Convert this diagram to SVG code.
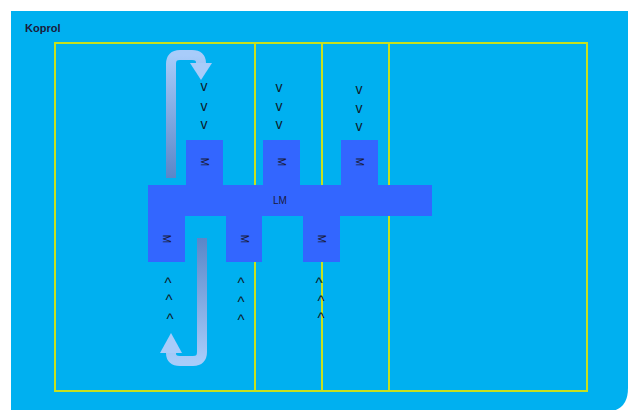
<svg xmlns="http://www.w3.org/2000/svg" width="631" height="410" viewBox="0 0 631 410">
<defs>
<style>
.bg{fill:#00B0F0}
.ln{fill:none;stroke:#C6E01E;stroke-width:2}
.box{fill:#3366FF}
.t{font-family:"Liberation Sans",Arial,sans-serif;fill:#1a1a3a}
.m{font-size:10px;text-anchor:middle;dominant-baseline:central}
.c{font-family:"Liberation Sans",Arial,sans-serif;text-anchor:middle;fill:#0d1a2a}
.v{font-size:14px}
.a{font-size:15px}
</style>
<linearGradient id="gUp" x1="0" y1="0" x2="0" y2="1">
<stop offset="0" stop-color="#A8CCFA"/>
<stop offset="1" stop-color="#5A86C8"/>
</linearGradient>
<linearGradient id="gDn" x1="0" y1="0" x2="0" y2="1">
<stop offset="0" stop-color="#5A86C8"/>
<stop offset="1" stop-color="#A8CCFA"/>
</linearGradient>
</defs>
<rect width="631" height="410" fill="#FFFFFF"/>
<path class="bg" d="M11,11 H628 V388 Q628,412 604,412 H11 Z"/>
<text class="t" x="25" y="32" font-size="11" font-weight="bold">Koprol</text>
<g id="frame">
<rect class="ln" x="55" y="43" width="532" height="348"/>
<line class="ln" x1="255" y1="43" x2="255" y2="391"/>
<line class="ln" x1="322" y1="43" x2="322" y2="391"/>
<line class="ln" x1="389" y1="43" x2="389" y2="391"/>
</g>
<g id="connectors">
<path d="M171,178 V64 Q171,55 180,55 H192 Q201,55 201,63" fill="none" stroke="url(#gUp)" stroke-width="10"/>
<polygon points="190,63 212,63 201,80" fill="#A8CCFA"/>
<path d="M202,238 V352 Q202,361 193,361 H180 Q171,361 171,353" fill="none" stroke="url(#gDn)" stroke-width="10"/>
<polygon points="160,353 182,353 171,333" fill="#A8CCFA"/>
</g>
<g id="LM">
<rect class="box" x="148" y="185" width="284" height="31"/>
<text class="t m" x="280" y="200" font-size="11">LM</text>
</g>
<g id="M-top-1"><rect class="box" x="186" y="140" width="37" height="45"/><text class="t m" transform="translate(204.5,162) rotate(90)">M</text></g>
<g id="M-top-2"><rect class="box" x="263" y="140" width="37" height="45"/><text class="t m" transform="translate(281.5,162) rotate(90)">M</text></g>
<g id="M-top-3"><rect class="box" x="341" y="140" width="37" height="45"/><text class="t m" transform="translate(359.5,162) rotate(90)">M</text></g>
<g id="M-bot-1"><rect class="box" x="148" y="216" width="37" height="46"/><text class="t m" transform="translate(166.5,239) rotate(90)">M</text></g>
<g id="M-bot-2"><rect class="box" x="226" y="216" width="36" height="46"/><text class="t m" transform="translate(244,239) rotate(90)">M</text></g>
<g id="M-bot-3"><rect class="box" x="303" y="216" width="37" height="46"/><text class="t m" transform="translate(321.5,239) rotate(90)">M</text></g>
<g id="chevrons">
<text class="c v" x="204" y="91">v</text><text class="c v" x="204" y="111">v</text><text class="c v" x="204" y="129">v</text>
<text class="c v" x="279" y="92">v</text><text class="c v" x="279" y="111">v</text><text class="c v" x="279" y="129">v</text>
<text class="c v" x="359" y="94">v</text><text class="c v" x="359" y="113">v</text><text class="c v" x="359" y="131">v</text>
<text class="c a" x="168" y="288">^</text><text class="c a" x="169" y="305">^</text><text class="c a" x="170" y="324">^</text>
<text class="c a" x="241" y="288">^</text><text class="c a" x="241" y="307">^</text><text class="c a" x="241" y="325">^</text>
<text class="c a" x="319" y="288">^</text><text class="c a" x="321" y="306">^</text><text class="c a" x="321" y="323">^</text>
</g>
</svg>
